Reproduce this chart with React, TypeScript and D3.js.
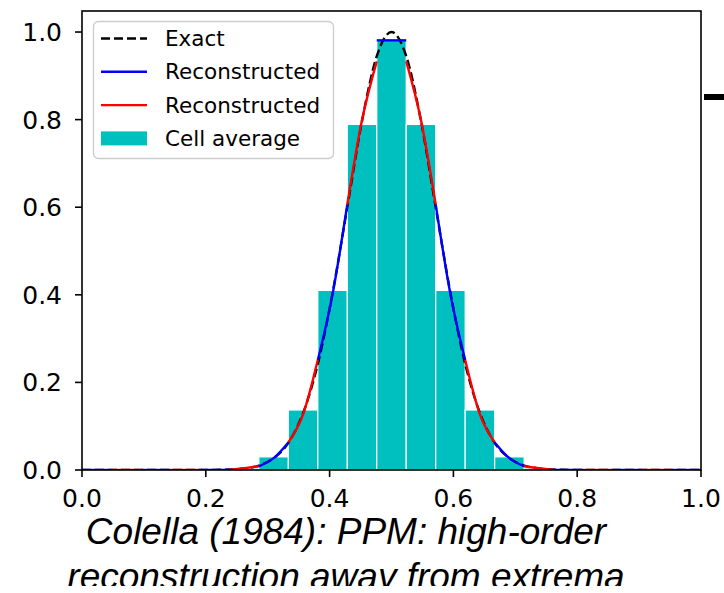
import React from 'react';
import * as d3 from 'd3';

// cell averages of the 21 cells on [0, 1]
const cellAvg = [0, 0, 0, 0, 0.0004, 0.0042, 0.03, 0.137, 0.41, 0.789, 0.981, 0.789, 0.41, 0.137, 0.03, 0.0042, 0.0004, 0, 0, 0, 0];

// reconstructed profile in each cell: left edge, middle, right edge
const reconLeft = [0, 0, 0, 0, 0, 0.0002, 0.0085, 0.063, 0.251, 0.606, 0.981, 0.933, 0.606, 0.251, 0.063, 0.0085, 0.0002, 0, 0, 0, 0];
const reconMid = [0, 0, 0, 0, 0.0004, 0.0041, 0.027, 0.127, 0.401, 0.799, 0.981, 0.799, 0.401, 0.127, 0.027, 0.0041, 0.0004, 0, 0, 0, 0];
const reconRight = [0, 0, 0, 0, 0.0002, 0.0085, 0.063, 0.251, 0.606, 0.933, 0.981, 0.606, 0.251, 0.063, 0.0085, 0.0002, 0, 0, 0, 0, 0];

// exact profile sampled at cell edges and centres (x = k / 42)
const exactVals = [
  0, 0, 0, 0, 0, 0, 0, 0, 0, 0.0003, 0.001, 0.0035, 0.01, 0.027, 0.062, 0.13, 0.242, 0.404, 0.6, 0.797, 0.945,
  1,
  0.945, 0.797, 0.6, 0.404, 0.242, 0.13, 0.062, 0.027, 0.01, 0.0035, 0.001, 0.0003, 0, 0, 0, 0, 0, 0, 0, 0, 0,
];

const xTicks = [0, 0.2, 0.4, 0.6, 0.8, 1.0];
const yTicks = [0, 0.2, 0.4, 0.6, 0.8, 1.0];
const legendItems = ['Exact', 'Reconstructed', 'Reconstructed', 'Cell average'];
const titleLines = ['Colella (1984): PPM: high-order', 'reconstruction away from extrema'];

const W = 724;
const H = 593;
const left = 82, right = 701, top = 11, bottom = 470;

const App: React.FC = () => {
  const n = cellAvg.length;
  const x = d3.scaleLinear().domain([0, 1]).range([left, right]);
  const y = d3.scaleLinear().domain([0, 1.048]).range([bottom, top]);
  const dx = 1 / n;

  const exactLine = d3.line<number>()
    .x((_, k) => x(k / (exactVals.length - 1)))
    .y(d => y(d))
    .curve(d3.curveMonotoneX);

  const segLine = d3.line<[number, number]>()
    .x(d => x(d[0]))
    .y(d => y(d[1]))
    .curve(d3.curveNatural);

  const segs = cellAvg.map((_, i) => {
    const pts: [number, number][] = [
      [i * dx, reconLeft[i]],
      [(i + 0.5) * dx, reconMid[i]],
      [(i + 1) * dx, reconRight[i]],
    ];
    return { d: segLine(pts) || '', color: i % 2 === 0 ? '#0000ff' : '#ff0000' };
  });

  const font = '"DejaVu Sans", sans-serif';
  const lg = { x: 93.5, y: 21.5, w: 240, h: 137 };
  const rowY = (k: number) => 38.5 + k * 33.3;

  return (
    <svg width={W} height={H} style={{ position: 'absolute', left: 0, top: 0, background: '#fff' }}>
      <defs>
        <clipPath id="plot">
          <rect x={left} y={top} width={right - left} height={bottom - top} />
        </clipPath>
        {/* the source figure is cropped just under the second title line */}
        <clipPath id="crop">
          <rect x={0} y={0} width={W} height={586} />
        </clipPath>
      </defs>

      {/* bars */}
      <g>
        {cellAvg.map((v, i) => (
          <rect key={i} x={x(i * dx)} y={y(v)} width={x(dx) - x(0)} height={y(0) - y(v)}
            fill="#00bfbf" stroke="#ffffff" strokeWidth={1.2} />
        ))}
      </g>

      <g clipPath="url(#plot)">
        <path d={exactLine(exactVals) || ''} fill="none" stroke="#000" strokeWidth={2.4} strokeDasharray="9,4" />
        {segs.map((s, i) => (
          <path key={i} d={s.d} fill="none" stroke={s.color} strokeWidth={2.4} />
        ))}
      </g>

      {/* spines */}
      <rect x={left} y={top} width={right - left} height={bottom - top} fill="none" stroke="#000" strokeWidth={1.6} />

      {/* ticks */}
      {xTicks.map(t => (
        <g key={'x' + t}>
          <line x1={x(t)} x2={x(t)} y1={bottom} y2={bottom + 7} stroke="#000" strokeWidth={1.6} />
          <text x={x(t)} y={507} textAnchor="middle" fontFamily={font} fontSize={25} fill="#000">{t.toFixed(1)}</text>
        </g>
      ))}
      {yTicks.map(t => (
        <g key={'y' + t}>
          <line x1={left - 7} x2={left} y1={y(t)} y2={y(t)} stroke="#000" strokeWidth={1.6} />
          <text x={62} y={y(t) + 9} textAnchor="end" fontFamily={font} fontSize={25} fill="#000">{t.toFixed(1)}</text>
        </g>
      ))}

      {/* legend */}
      <rect x={lg.x} y={lg.y} width={lg.w} height={lg.h} rx={5} fill="#fff" fillOpacity={0.8} stroke="#cccccc" strokeWidth={1.3} />
      {legendItems.map((label, k) => {
        const cy = rowY(k);
        let handle;
        if (k === 0) handle = <line x1={101} x2={147} y1={cy} y2={cy} stroke="#000" strokeWidth={2.4} strokeDasharray="9,4" />;
        else if (k === 1) handle = <line x1={101} x2={147} y1={cy} y2={cy} stroke="#0000ff" strokeWidth={2.4} />;
        else if (k === 2) handle = <line x1={101} x2={147} y1={cy} y2={cy} stroke="#ff0000" strokeWidth={2.4} />;
        else handle = <rect x={101} y={cy - 7} width={46} height={14} fill="#00bfbf" />;
        return (
          <g key={k}>
            {handle}
            <text x={165} y={cy + 7.5} fontFamily={font} fontSize={21.5} fill="#000">{label}</text>
          </g>
        );
      })}

      {/* title below the axes */}
      <g clipPath="url(#crop)">
        {titleLines.map((t, k) => (
          <text key={k} x={346} y={544 + k * 45} textAnchor="middle" fontFamily='"Liberation Sans", Arial, sans-serif'
            fontStyle="italic" fontSize={37} fill="#000">{t}</text>
        ))}
      </g>

      {/* edge of a neighbouring panel */}
      <rect x={704} y={94} width={20} height={6} fill="#000" />
    </svg>
  );
};

export default App;
